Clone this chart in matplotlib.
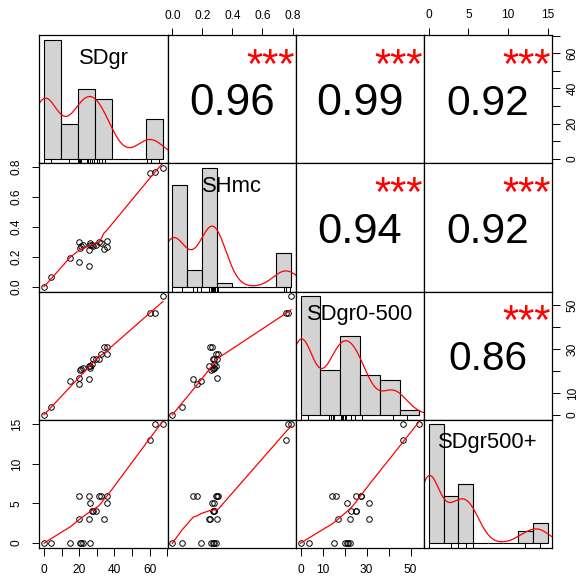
import numpy as np
import matplotlib
matplotlib.use('Agg')
import matplotlib.pyplot as plt
from matplotlib.transforms import offset_copy, blended_transform_factory

plt.rcParams['font.family'] = ['Liberation Sans', 'DejaVu Sans']

names = ['SDgr', 'SHmc', 'SDgr0-500', 'SDgr500+']

# one entry per spot on the plot; n_obs = how many rows sit on that spot
sdgr = [0, 4, 15, 20.5, 21, 22, 26, 20, 25.5, 26, 20, 25.5, 27, 28, 29.5,
        31, 32.5, 34, 35.7, 35.7, 60.5, 63, 67.5]
shmc = [0, 0.064, 0.19, 0.26, 0.27, 0.28, 0.29, 0.167, 0.14, 0.275, 0.298,
        0.245, 0.275, 0.272, 0.28, 0.298, 0.29, 0.25, 0.305, 0.265, 0.755, 0.767, 0.79]
sdgr0_500 = [0, 3.8, 15.3, 20.2, 21, 21.5, 22.3, 14.2, 16.2, 21.2, 17, 22.3, 23,
             25.3, 25.3, 25.3, 27.6, 31, 27.6, 31, 46.5, 46.5, 54]
sdgr500p = [0, 0, 0, 0, 0, 0, 0, 6, 6, 5, 3, 3, 4, 4, 4, 6, 6, 3, 6, 5, 13, 15, 15]
n_obs = [22, 2, 1, 2, 1, 1, 1, 1, 2, 2, 5, 1, 1, 2, 1, 2, 1, 2, 1, 6, 3, 4, 1]

# correlations as printed in the upper panels, pairs (0,1),(0,2),(0,3),(1,2),(1,3),(2,3)
r_vals = [0.96, 0.99, 0.92, 0.94, 0.92, 0.86]
signif = ['***', '***', '***', '***', '***', '***']

bin_width = [10, 0.1, 10, 2]
ticks = [(np.arange(0, 71, 10), ['0', '', '20', '', '40', '', '60', '']),
         (np.arange(0, 0.81, 0.2), ['0.0', '0.2', '0.4', '0.6', '0.8']),
         (np.arange(0, 51, 10), ['0', '10', '', '30', '', '50']),
         (np.arange(0, 16, 5), ['0', '5', '10', '15'])]

data = [np.repeat(np.array(v, float), n_obs) for v in (sdgr, shmc, sdgr0_500, sdgr500p)]
points = [np.array(v, float) for v in (sdgr, shmc, sdgr0_500, sdgr500p)]


def lowess(x, y, f=2/3, iters=3):
    o = np.argsort(x, kind='mergesort')
    x, y = x[o], y[o]
    n = len(x)
    ns = max(min(int(f * n + 1e-7), n), 2)
    rng = x[-1] - x[0]
    rw = np.ones(n)
    fit = np.zeros(n)
    for it in range(iters + 1):
        for i in range(n):
            d = np.abs(x - x[i])
            h = np.sort(d)[ns - 1]
            w = np.zeros(n)
            near = d <= 0.999 * h
            w[near] = (1 - (d[near] / h) ** 3) ** 3 if h > 0 else 1
            w[d <= 0.001 * h] = 1
            w *= rw
            if w.sum() <= 0:
                fit[i] = y[i]
                continue
            w /= w.sum()
            if h > 0:
                a = np.sum(w * x)
                b = x[i] - a
                c = np.sum(w * (x - a) ** 2)
                if np.sqrt(c) > 0.001 * rng:
                    w = w * (b / c * (x - a) + 1)
            fit[i] = np.sum(w * y)
        if it == iters:
            break
        res = np.abs(y - fit)
        cmad = 6 * np.median(res)
        if cmad < 1e-7 * np.mean(res):
            break
        rw = np.where(res <= 0.999 * cmad, (1 - (res / cmad) ** 2) ** 2, 0.0)
        rw[res <= 0.001 * cmad] = 1
    return x, fit


def density(x):
    n = len(x)
    sd = x.std(ddof=1)
    q75, q25 = np.percentile(x, [75, 25])
    lo = min(sd, (q75 - q25) / 1.34) or sd
    bw = 0.9 * lo * n ** -0.2
    grid = np.linspace(x.min() - 3 * bw, x.max() + 3 * bw, 512)
    d = np.exp(-0.5 * ((grid[:, None] - x[None, :]) / bw) ** 2).sum(1) / (n * bw * np.sqrt(2 * np.pi))
    return grid, d


def lims(v, a=0.04):
    lo, hi = v.min(), v.max()
    return lo - a * (hi - lo), hi + a * (hi - lo)


fig = plt.figure(figsize=(5.82, 5.84), dpi=100)
W, H = 582, 584
x0, y0, pw, ph = 39.3, 35.3, 128.25, 128.1

k = 0
for i in range(4):
    for j in range(4):
        ax = fig.add_axes([(x0 + j * pw) / W, 1 - (y0 + (i + 1) * ph) / H, pw / W, ph / H])
        for s in ax.spines.values():
            s.set_linewidth(0.9)
        ax.tick_params(bottom=False, left=False, labelbottom=False, labelleft=False,
                       direction='out', length=5.4, width=0.7, labelsize=8.6)
        if i == j:
            v = data[i]
            edges = np.arange(0, v.max() + bin_width[i], bin_width[i])
            if edges[-1] < v.max():
                edges = np.append(edges, edges[-1] + bin_width[i])
            # right-closed bins, like R's hist()
            idx = np.clip(np.searchsorted(edges, v, side='left') - 1, 0, len(edges) - 2)
            counts = np.bincount(idx, minlength=len(edges) - 1)
            dens = counts / (len(v) * bin_width[i])
            ax.bar(edges[:-1], dens, width=bin_width[i], align='edge', color='#D3D3D3',
                   edgecolor='black', linewidth=0.8)
            g, d = density(v)
            ax.plot(g, d, color='red', lw=0.9)
            ax.vlines(points[i], 0, 0.035, transform=blended_transform_factory(ax.transData, ax.transAxes),
                      color='black', lw=0.7)
            ax.set_xlim(lims(edges))
            ax.set_ylim(-0.04 * dens.max(), 1.04 * dens.max())
            ax.text(0.5, 0.777, names[i], transform=ax.transAxes, ha='center', va='baseline',
                    fontsize=15.8)
            ax.set_xticks([])
            ax.set_yticks([])
            continue
        ax.set_xlim(lims(data[j]))
        ax.set_ylim(lims(data[i]))
        if i > j:
            ax.plot(points[j], points[i], 'o', mfc='none', mec='black', ms=4, mew=0.7)
            xs, fs = lowess(data[j], data[i])
            ax.plot(xs, fs, color='red', lw=0.9)
        else:
            r = r_vals[k]
            fs = 32.7 * (abs(r) + 0.3) / 1.3
            ax.text(0.5, 0.5, format(r, '.2f'), ha='center', va='baseline', fontsize=fs,
                    transform=offset_copy(ax.transAxes, fig=fig, y=-0.358 * fs, units='points'))
            ax.text(0.8, 0.665, signif[k], ha='center', va='baseline', fontsize=30, color='red',
                    transform=ax.transAxes)
            k += 1
        ax.set_xticks(ticks[j][0], ticks[j][1])
        ax.set_yticks(ticks[i][0], ticks[i][1])
        if i == 0 and j % 2 == 1:
            ax.tick_params(top=True, labeltop=True, pad=4)
        if i == 3 and j % 2 == 0:
            ax.tick_params(bottom=True, labelbottom=True, pad=6.3)
        if j == 0 and i % 2 == 1:
            ax.tick_params(left=True, labelleft=True, pad=6.6)
            for tick in ax.yaxis.get_major_ticks():
                tick.label1.set_rotation(90)
                tick.label1.set_va('center')
        if j == 3 and i % 2 == 0:
            ax.tick_params(right=True, labelright=True, pad=5)
            for tick in ax.yaxis.get_major_ticks():
                tick.label2.set_rotation(90)
                tick.label2.set_va('center')

fig.savefig('out.png', dpi=100)
